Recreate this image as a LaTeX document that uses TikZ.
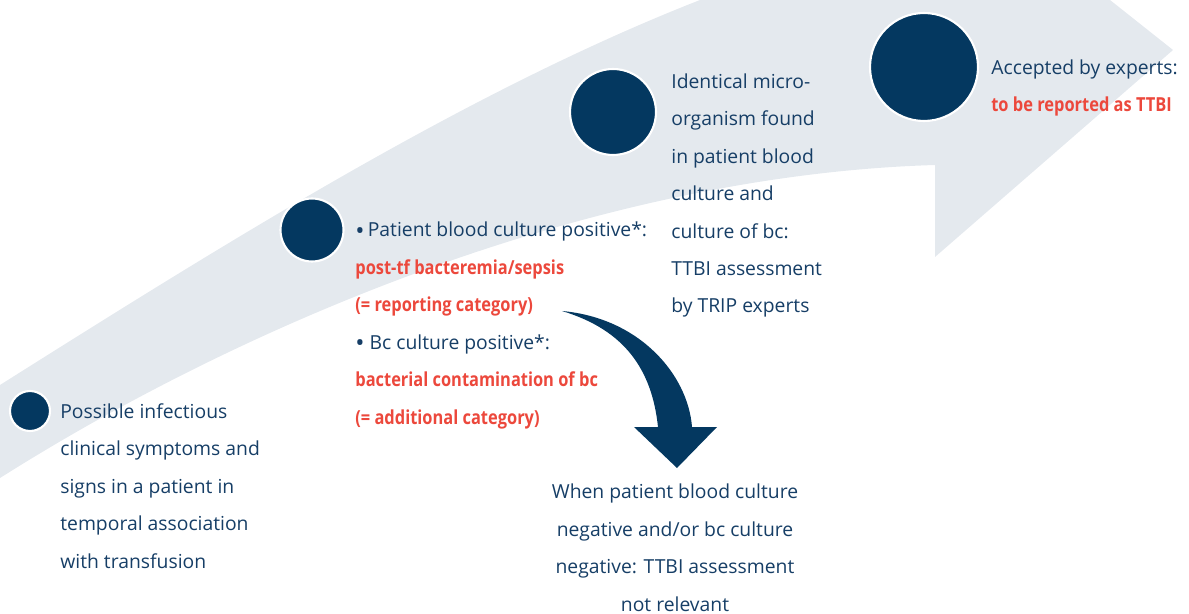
\documentclass[tikz,border=0pt]{standalone}
\usepackage{fontspec}
\setmainfont{Open Sans}
\newfontfamily\condbold[FakeStretch=0.85]{Open Sans}
\usetikzlibrary{positioning}

\definecolor{navy}{RGB}{4,56,96}
\definecolor{navytext}{RGB}{22,62,102}
\definecolor{alertred}{RGB}{236,72,60}
\definecolor{bandgray}{RGB}{228,233,238}
\newcommand{\hl}[1]{{\condbold\bfseries\color{alertred}#1}}
\newcommand{\blt}{\raisebox{-1.4pt}{\fontsize{14}{21.3}\selectfont\textbullet}}

\begin{document}
\begin{tikzpicture}[x=0.02cm, y=-0.02cm,
    dot/.style = {circle, fill=navy, draw=white, line width=1.2pt, inner sep=0pt},
    txt/.style = {anchor=base west, align=left, inner sep=0pt, text=navytext,
                  font=\fontsize{11}{21.3}\selectfont}]
    \useasboundingbox (0,0) rectangle (1189,614);
    \fill[bandgray] (0,385) .. controls (230,240) and (470,90) .. (700,0) -- (1110,0)
        -- (1173,50) -- (935,257) -- (935,165) .. controls (600,175) and (250,320) .. (0,478) -- cycle;

    \node[dot, minimum size=0.8cm] (s1) at (30,411) {};
    \node[dot, minimum size=1.26cm] (s2) at (312,230) {};
    \node[dot, minimum size=1.72cm] (s3) at (613,112) {};
    \node[dot, minimum size=2.16cm] (s4) at (924,67) {};

    % base anchor sits on the last line
    \node[txt] (t1) at (60,568) {Possible infectious\\clinical symptoms and\\signs in a patient in\\temporal association\\with transfusion};
    \node[txt] (t2) at (355,424) {\blt\,Patient blood culture positive*:\\\hl{post-tf bacteremia/sepsis}\\\hl{(= reporting category)}\\\blt\ Bc culture positive*:\\\hl{bacterial contamination of bc}\\\hl{(= additional category)}};
    \node[txt] (t3) at (671,313) {Identical micro-\\organism found\\in patient blood\\culture and\\culture of bc:\\TTBI assessment\\by TRIP experts};
    \node[txt] (t4) at (991,112) {Accepted by experts:\\\hl{to be reported as TTBI}};
    \node[txt, anchor=base, align=center] (t5) at (675,611) {When patient blood culture\\negative and/or bc culture\\negative: TTBI assessment\\not relevant};

    \coordinate (tail) at (562,311);
    \coordinate (tip) at (677,468);
    \fill[navy] (tail) .. controls (640,318) and (688,375) .. (692,427) -- (717,427) -- (tip)
        -- (634,427) -- (658,427) .. controls (652,370) and (625,330) .. (tail) -- cycle;
\end{tikzpicture}
\end{document}
